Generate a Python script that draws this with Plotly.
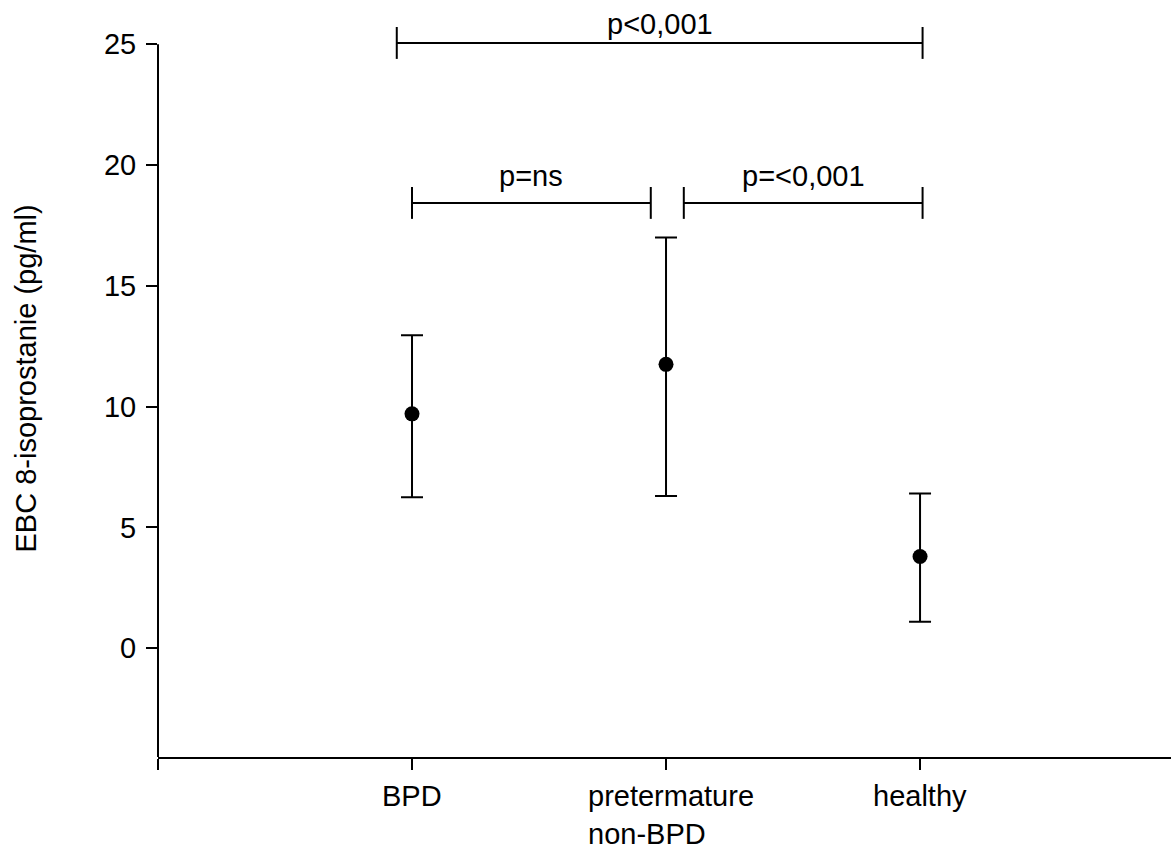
import plotly.graph_objects as go

# ---- data ----
categories = ["BPD", "pretermature<br>non-BPD", "healthy"]
cat_pos = [1, 2, 3]
means = [9.7, 11.75, 3.8]
upper = [12.95, 17.0, 6.4]
lower = [6.25, 6.3, 1.1]

y_ticks = [0, 5, 10, 15, 20, 25]
y_title = "EBC 8-isoprostanie (pg/ml)"

# significance brackets
br_x0 = [0.94, 1.0, 2.07]
br_x1 = [3.01, 1.94, 3.01]
br_y = [25.05, 18.43, 18.43]
br_text = ["p<0,001", "p=ns", "p=<0,001"]
br_label_shift = [1, 9, 9]

FONT = "Liberation Sans, Arial, sans-serif"
FS = 29
Y_MIN, Y_MAX = -4.5, 26.0
X_MIN, X_MAX = 0, 3.988

err_plus = [u - m for u, m in zip(upper, means)]
err_minus = [m - l for m, l in zip(means, lower)]

fig = go.Figure()
fig.add_trace(go.Scatter(
    x=cat_pos, y=means, mode="markers",
    marker=dict(size=15, color="black"),
    error_y=dict(type="data", array=err_plus, arrayminus=err_minus,
                 symmetric=False, thickness=2, width=11, color="black"),
    showlegend=False, hoverinfo="skip",
))

shapes = []
cap = 0.66
for x0, x1, y in zip(br_x0, br_x1, br_y):
    shapes.append(dict(type="line", xref="x", yref="y", x0=x0, x1=x1, y0=y, y1=y,
                       line=dict(color="black", width=2)))
    for xx in (x0, x1):
        shapes.append(dict(type="line", xref="x", yref="y", x0=xx, x1=xx,
                           y0=y - cap, y1=y + cap, line=dict(color="black", width=2)))
# y axis line (stops at top tick)
shapes.append(dict(type="line", xref="paper", yref="y", x0=0, x1=0,
                   y0=Y_MIN, y1=y_ticks[-1], line=dict(color="black", width=2)))

annotations = []
for x0, x1, y, t, s in zip(br_x0, br_x1, br_y, br_text, br_label_shift):
    annotations.append(dict(x=(x0 + x1) / 2, y=y, xref="x", yref="y", text=t,
                            showarrow=False, yanchor="bottom", yshift=s,
                            font=dict(family=FONT, size=FS, color="black")))
for xp, t in zip(cat_pos, categories):
    annotations.append(dict(x=xp, y=0, xref="x", yref="paper", text=t,
                            showarrow=False, xanchor="center", yanchor="top",
                            align="left", yshift=-22, borderpad=0,
                            xshift=5 if "<br>" in t else 0,
                            font=dict(family=FONT, size=FS, color="black")))
annotations.append(dict(x=-0.130, y=0.514, xref="paper", yref="paper", text=y_title,
                        textangle=-90, showarrow=False, xanchor="center", yanchor="middle",
                        font=dict(family=FONT, size=FS, color="black")))

fig.update_layout(
    width=1171, height=847,
    margin=dict(l=158, r=0, t=20, b=90),
    paper_bgcolor="white", plot_bgcolor="white",
    font=dict(family=FONT, size=FS, color="black"),
    shapes=shapes, annotations=annotations,
    xaxis=dict(range=[X_MIN, X_MAX], showgrid=False, zeroline=False,
               showline=True, linecolor="black", linewidth=2,
               ticks="outside", ticklen=11, tickwidth=2, tickcolor="black",
               tickvals=[0] + cat_pos, ticktext=["", "", "", ""]),
    yaxis=dict(range=[Y_MIN, Y_MAX], showgrid=False, zeroline=False,
               showline=False,
               ticks="outside", ticklen=11, tickwidth=2, tickcolor="black",
               tickvals=y_ticks, ticklabelstandoff=4),
)

fig.write_html("out.html", config={"displayModeBar": False},
               post_script="document.body.style.margin='0';document.body.style.overflow='hidden';")
